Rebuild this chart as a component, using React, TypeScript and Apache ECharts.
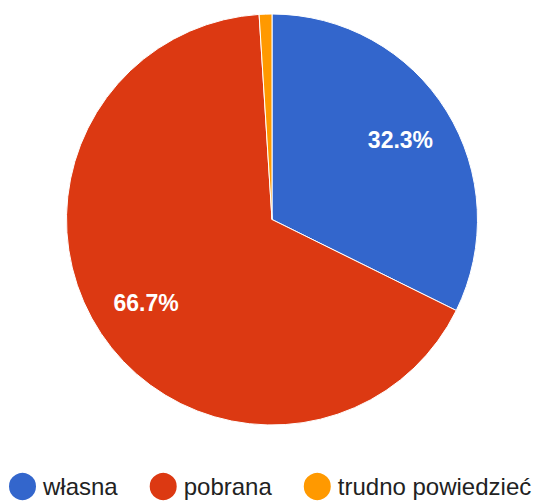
import React, { useEffect, useRef } from "react";
import * as echarts from "echarts";

const categories = ["własna", "pobrana", "trudno powiedzieć"];
const values = [32.3, 66.7, 1.0];
const colors = ["#3366cc", "#dc3912", "#ff9900"];

export default function App() {
  const ref = useRef<HTMLDivElement>(null);
  useEffect(() => {
    document.body.style.margin = "0";
    const chart = echarts.init(ref.current!, null, { renderer: "svg" });
    const data = categories.map((name, i) => ({
      name,
      value: values[i],
      itemStyle: { color: colors[i] },
    }));
    chart.setOption({
      animation: false,
      legend: {
        data: categories,
        left: 7,
        top: 471,
        width: 529,
        padding: 0,
        icon: "circle",
        itemWidth: 29,
        itemHeight: 29,
        itemGap: 30,
        textStyle: {
          fontFamily: "Liberation Sans, Arial, sans-serif",
          fontSize: 24,
          color: "#222222",
          padding: [0, 0, 0, 1],
        },
      },
      series: [
        {
          type: "pie",
          center: [272, 219.5],
          radius: [0, 205.5],
          startAngle: 90,
          clockwise: true,
          silent: true,
          data,
          itemStyle: { borderColor: "#ffffff", borderWidth: 1 },
          label: { show: false },
          labelLine: { show: false },
        },
        {
          type: "pie",
          center: [272, 219.5],
          radius: [91, 205.5],
          startAngle: 90,
          clockwise: true,
          silent: true,
          legendHoverLink: false,
          data: categories.map((name, i) => ({
            name: name + " ",
            value: values[i],
            itemStyle: { color: "rgba(0,0,0,0)" },
          })),
          itemStyle: { borderWidth: 0 },
          label: {
            show: true,
            position: "inside",
            formatter: (p: any) => (p.value >= 5 ? p.value.toFixed(1) + "%" : ""),
            color: "#ffffff",
            fontFamily: "Liberation Sans, Arial, sans-serif",
            fontWeight: "bold",
            fontSize: 23,
          },
          labelLine: { show: false },
        },
      ],
    });
    return () => chart.dispose();
  }, []);
  return <div ref={ref} style={{ width: 536, height: 501 }} />;
}
